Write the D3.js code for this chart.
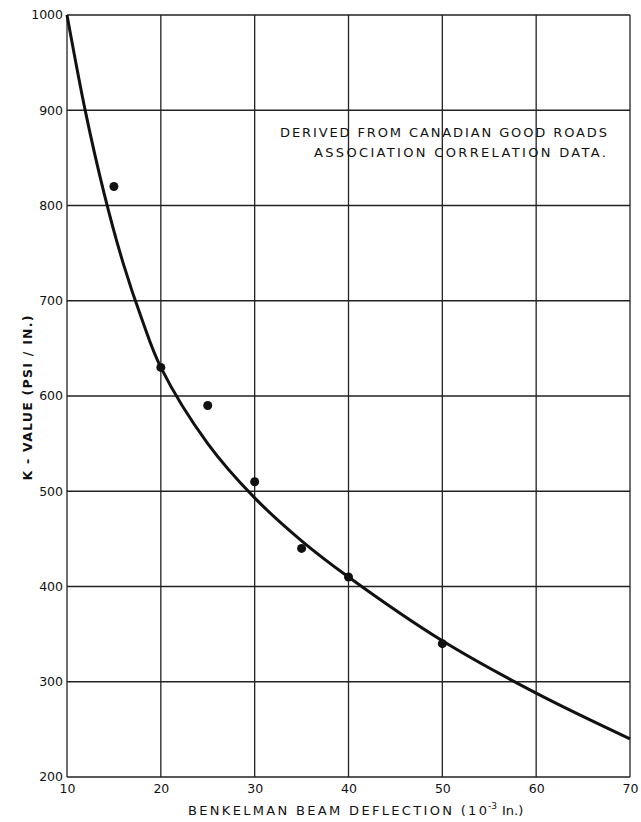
<!DOCTYPE html>
<html>
<head>
<meta charset="utf-8">
<script src="https://cdn.jsdelivr.net/npm/d3@7"></script>
<style>
  body { margin: 0; background: #fff; }
  svg { display: block; }
  text { font-family: "DejaVu Sans", sans-serif; fill: #111; }
</style>
</head>
<body>
<svg id="chart"></svg>
<script>
// measured points (deflection, k-value)
const pointX = [15, 20, 25, 30, 35, 40, 50];
const pointY = [820, 630, 590, 510, 440, 410, 340];

// smooth curve
const curveX = [10, 12, 14, 16, 18, 20, 25, 30, 35, 40, 50, 60, 70];
const curveY = [1000, 897, 811, 739, 680, 630, 550, 493, 448, 410, 343, 288, 240];

const xTicks = [10, 20, 30, 40, 50, 60, 70];
const yTicks = [200, 300, 400, 500, 600, 700, 800, 900, 1000];

const note = ["DERIVED FROM CANADIAN GOOD ROADS", "ASSOCIATION CORRELATION DATA."];

const width = 641, height = 822;
const margin = { top: 15, right: 11, bottom: 45, left: 67 };
const innerW = width - margin.left - margin.right;
const innerH = height - margin.top - margin.bottom;

const svg = d3.select("#chart").attr("width", width).attr("height", height);
const g = svg.append("g").attr("transform", "translate(" + margin.left + "," + margin.top + ")");

const x = d3.scaleLinear().domain([10, 70]).range([0, innerW]);
const y = d3.scaleLinear().domain([200, 1000]).range([innerH, 0]);

// grid
g.append("g")
    .selectAll("line")
    .data(xTicks)
    .join("line")
    .attr("x1", d => x(d)).attr("x2", d => x(d))
    .attr("y1", 0).attr("y2", innerH)
    .attr("stroke", "#222").attr("stroke-width", 1.3);

g.append("g")
    .selectAll("line")
    .data(yTicks)
    .join("line")
    .attr("x1", 0).attr("x2", innerW)
    .attr("y1", d => y(d)).attr("y2", d => y(d))
    .attr("stroke", "#222").attr("stroke-width", 1.3);

// tick labels via d3 axes, domain and tick marks hidden
const xAxis = g.append("g")
    .attr("transform", "translate(0," + innerH + ")")
    .call(d3.axisBottom(x).tickValues(xTicks).tickFormat(d3.format("d")).tickSize(0).tickPadding(7));
xAxis.select(".domain").remove();
xAxis.selectAll("text").style("font-size", "12.5px").style("font-family", "DejaVu Sans, sans-serif").attr("fill", "#111");

const yAxis = g.append("g")
    .call(d3.axisLeft(y).tickValues(yTicks).tickFormat(d3.format("d")).tickSize(0).tickPadding(4));
yAxis.select(".domain").remove();
yAxis.selectAll("text").style("font-size", "12.5px").style("font-family", "DejaVu Sans, sans-serif").attr("fill", "#111")
    .attr("dy", "0.3em");

// curve
const curveData = curveX.map((d, i) => [d, curveY[i]]);
g.append("path")
    .datum(curveData)
    .attr("fill", "none")
    .attr("stroke", "#111")
    .attr("stroke-width", 3)
    .attr("d", d3.line().x(d => x(d[0])).y(d => y(d[1])).curve(d3.curveCatmullRom.alpha(0.5)));

// points
g.append("g")
    .selectAll("circle")
    .data(pointX.map((d, i) => [d, pointY[i]]))
    .join("circle")
    .attr("cx", d => x(d[0]))
    .attr("cy", d => y(d[1]))
    .attr("r", 4.5)
    .attr("fill", "#111");

// note
svg.append("text")
    .attr("x", 607).attr("y", 137)
    .attr("text-anchor", "end")
    .style("font-size", "13px")
    .attr("textLength", 327).attr("lengthAdjust", "spacing")
    .text(note[0]);
svg.append("text")
    .attr("x", 606).attr("y", 157)
    .attr("text-anchor", "end")
    .style("font-size", "13px")
    .attr("textLength", 292).attr("lengthAdjust", "spacing")
    .text(note[1]);

// x title
svg.append("text")
    .attr("x", 188).attr("y", 815)
    .style("font-size", "13px")
    .attr("textLength", 299).attr("lengthAdjust", "spacing")
    .text("BENKELMAN BEAM DEFLECTION (10");
svg.append("text")
    .attr("x", 488).attr("y", 809)
    .style("font-size", "9px")
    .text("-3");
svg.append("text")
    .attr("x", 502).attr("y", 815)
    .style("font-size", "13px")
    .text("In.)");

// y title
svg.append("text")
    .attr("transform", "translate(32,398) rotate(-90)")
    .attr("text-anchor", "middle")
    .style("font-size", "12.5px")
    .style("font-weight", "bold")
    .attr("textLength", 165).attr("lengthAdjust", "spacing")
    .text("K - VALUE  (PSI / IN.)");
</script>
</body>
</html>
